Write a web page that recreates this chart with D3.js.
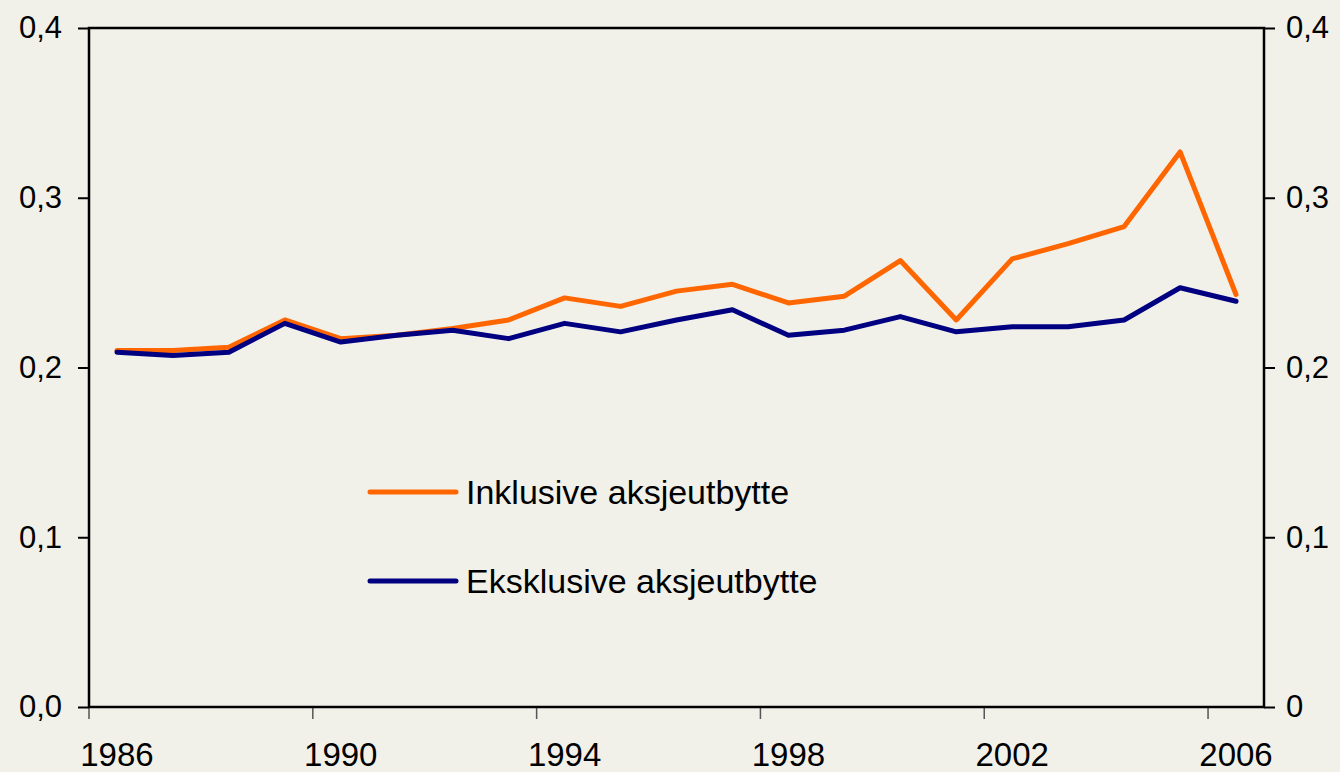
<!DOCTYPE html>
<html>
<head>
  <meta charset="utf-8" />
  <script src="https://d3js.org/d3.v7.min.js"></script>
  <style>
    body { margin: 0; background: #f1f0e9; }
    svg text { font-family: "Liberation Sans", Arial, sans-serif; fill: #000; }
  </style>
</head>
<body>
  <script type="text/javascript">
    // - - - - - DATA - - - - - //
    var years = d3.range(1986, 2007).map(String);
    var inklusive = [0.210, 0.210, 0.212, 0.228, 0.217, 0.219, 0.223, 0.228, 0.241, 0.236,
                     0.245, 0.249, 0.238, 0.242, 0.263, 0.228, 0.264, 0.273, 0.283, 0.327, 0.243];
    var eksklusive = [0.209, 0.207, 0.209, 0.226, 0.215, 0.219, 0.222, 0.217, 0.226, 0.221,
                      0.228, 0.234, 0.219, 0.222, 0.230, 0.221, 0.224, 0.224, 0.228, 0.247, 0.239];
    var seriesNames = ["Inklusive aksjeutbytte", "Eksklusive aksjeutbytte"];
    var seriesColors = ["#ff6600", "#000080"];
    var yTicks = [0, 0.1, 0.2, 0.3, 0.4];
    var xLabelYears = ["1986", "1990", "1994", "1998", "2002", "2006"];

    var W = 1340, H = 772;
    var margin = {top: 28, right: 76, bottom: 65, left: 89};
    var width = W - margin.left - margin.right,
        height = H - margin.top - margin.bottom;

    var svg = d3.select("body").append("svg")
        .attr("width", W).attr("height", H)
        .style("background", "#f1f0e9");
    var g = svg.append("g")
        .attr("transform", "translate(" + margin.left + "," + margin.top + ")");

    var x = d3.scaleBand().domain(years).range([0, width]);
    var y = d3.scaleLinear().domain([0, 0.4]).range([height, 0]);

    var fmtL = function(d) { return d3.format(".1f")(d).replace(".", ","); };
    var fmtR = function(d) { return d === 0 ? "0" : fmtL(d); };

    // - - - - - AXES - - - - - //
    var left = g.append("g")
        .call(d3.axisLeft(y).tickValues(yTicks).tickSize(11).tickPadding(16).tickFormat(fmtL));
    var right = g.append("g")
        .attr("transform", "translate(" + width + ",0)")
        .call(d3.axisRight(y).tickValues(yTicks).tickSize(11).tickPadding(11).tickFormat(fmtR));
    [left, right].forEach(function(a) {
      a.select(".domain").remove();
      a.selectAll(".tick line").attr("stroke", "#000").attr("stroke-width", 2);
      a.selectAll(".tick text").style("font-size", "31px");
    });

    // x ticks at band edges, labels at band centres
    var xEdges = xLabelYears.map(function(d) { return x(d); });
    g.append("g").selectAll("line")
        .data(xEdges)
      .enter().append("line")
        .attr("x1", function(d) { return d; }).attr("x2", function(d) { return d; })
        .attr("y1", height).attr("y2", height + 12)
        .attr("stroke", "#555").attr("stroke-width", 1.5);
    g.append("g").selectAll("text")
        .data(xLabelYears)
      .enter().append("text")
        .attr("x", function(d) { return x(d) + x.bandwidth() / 2; })
        .attr("y", height + 59)
        .attr("text-anchor", "middle")
        .style("font-size", "33px")
        .text(function(d) { return d; });

    // frame
    g.append("rect")
        .attr("width", width).attr("height", height)
        .attr("fill", "none").attr("stroke", "#000").attr("stroke-width", 2.5);

    // - - - - - LINES - - - - - //
    var line = d3.line()
        .x(function(d, i) { return x(years[i]) + x.bandwidth() / 2; })
        .y(function(d) { return y(d); });

    [inklusive, eksklusive].forEach(function(s, i) {
      g.append("path")
          .datum(s)
          .attr("d", line)
          .attr("fill", "none")
          .attr("stroke", seriesColors[i])
          .attr("stroke-width", 5)
          .attr("stroke-linejoin", "round")
          .attr("stroke-linecap", "round");
    });

    // - - - - - LEGEND - - - - - //
    var legend = svg.append("g").attr("transform", "translate(368,492)");
    seriesNames.forEach(function(name, i) {
      var row = legend.append("g").attr("transform", "translate(0," + (i * 89) + ")");
      row.append("line")
          .attr("x1", 2).attr("x2", 88)
          .attr("stroke", seriesColors[i]).attr("stroke-width", 5)
          .attr("stroke-linecap", "round");
      row.append("text")
          .attr("x", 98).attr("dy", "0.36em")
          .style("font-size", "34px")
          .text(name);
    });
  </script>
</body>
</html>
